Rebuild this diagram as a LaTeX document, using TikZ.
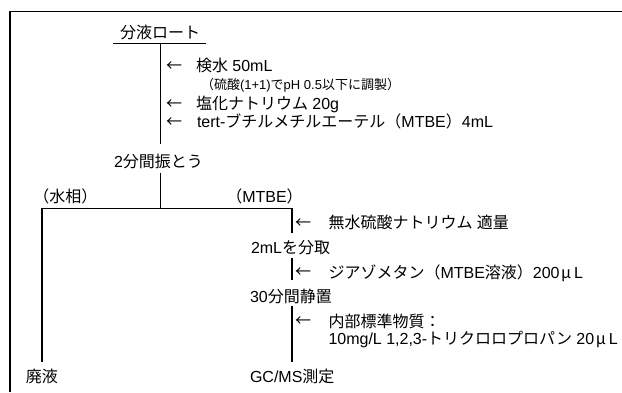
\documentclass[tikz,border=0pt]{standalone}
\usepackage{fontspec}
\setmainfont{Liberation Sans}
\newfontfamily\jp{Noto Sans CJK JP}
\newcommand\J[1]{{\jp #1}}
\newcommand\mySmu{\kern1.5pt{\jp μ}\kern3pt}
\begin{document}
\begin{tikzpicture}[x=1pt,y=-1pt,
  every node/.style={inner sep=0pt,outer sep=0pt},
  txt/.style={font=\fontsize{16}{18}\selectfont,anchor=base west},
  ctxt/.style={font=\fontsize{16}{18}\selectfont,anchor=base},
  note/.style={font=\fontsize{13}{15}\selectfont,anchor=base west},
  arr/.style={font=\fontsize{16}{18}\selectfont\jp,anchor=base west},
  frame/.style={line width=1.2pt},
  thinline/.style={line width=1pt},
  midline/.style={line width=1.3pt},
  thickline/.style={line width=2pt}]
\useasboundingbox (0,0) rectangle (622,392);
\draw[frame] (10,392) |- (622,11.5);

% top part
\node[ctxt] (funnel) at (160,38) {\J{分液ロート}};
\coordinate (ulL) at (113,43.3);
\coordinate (ulR) at (206,43.3);
\coordinate (ulM) at (160,43.3);
\draw[thinline] (ulL) -- (ulR);

\node[arr] (a1) at (166,71) {←};
\node[txt] (t1) at (196,71) {\J{検水} 50mL};
\node[note] (t1b) at (201,89.5) {\J{（硫酸}(1+1)\J{で}pH 0.5\J{以下に調製）}};
\node[arr] (a2) at (166,109) {←};
\node[txt] (t2) at (196,109) {\J{塩化ナトリウム} 20g};
\node[arr] (a3) at (166,127) {←};
\node[txt] (t3) at (197,127) {tert-\J{ブチルメチルエーテル（}MTBE\J{）}4mL};

\node[ctxt] (shake) at (158.5,167) {2\J{分間振とう}};
\coordinate (s1) at (160,144);
\draw[thinline] (ulM) -- (s1);
\coordinate (s2) at (160,172.7);
\coordinate (br) at (160,208.3);
\draw[thinline] (s2) -- (br);

\node[ctxt] (water) at (65.5,202) {\J{（水相）}};
\node[ctxt] (mtbe) at (264.5,202) {\J{（}MTBE\J{）}};

\coordinate (bl) at (42,208.3);
\coordinate (brr) at (292,208.3);
\draw[midline] (bl) -- (brr);
\coordinate (wend) at (42,361.7);
\draw[thickline] (bl) -- (wend);
\node[txt] (waste) at (26,382) {\J{廃液}};

% right branch
\coordinate (r1) at (292,232.7);
\draw[midline] (brr) -- (r1);
\node[arr] (a4) at (295,228.5) {←};
\node[txt] (t4) at (328.5,228.5) {\J{無水硫酸ナトリウム} \J{適量}};

\node[txt] (take) at (251,253.5) {2mL\J{を分取}};
\coordinate (r2) at (292,258.3);
\coordinate (r3) at (292,280);
\draw[midline] (r2) -- (r3);
\node[arr] (a5) at (295,277.5) {←};
\node[txt] (t5) at (328.5,278) {\J{ジアゾメタン（}MTBE\J{溶液）}200\mySmu L};

\node[txt] (stand) at (250,302) {30\J{分間静置}};
\coordinate (r4) at (292,306);
\coordinate (r5) at (292,361.7);
\draw[midline] (r4) -- (r5);
\node[arr] (a6) at (295,326.5) {←};
\node[txt] (t6) at (328.5,327) {\J{内部標準物質：}};
\node[txt] (t7) at (328.5,344) {10mg/L 1,2,3-\J{トリクロロプロパン} 20\mySmu L};

\node[txt] (gcms) at (250,382) {GC/MS\J{測定}};
\end{tikzpicture}
\end{document}
